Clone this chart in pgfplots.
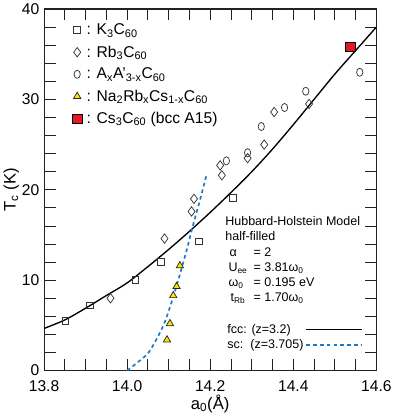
\documentclass[border=0pt]{standalone}
\usepackage{fontspec}
\setmainfont{Liberation Sans}
\usepackage{pgfplots}
\pgfplotsset{compat=1.18}

\definecolor{scblue}{RGB}{30,120,200}
\definecolor{triyel}{RGB}{255,228,0}
\definecolor{csred}{RGB}{230,25,35}
\definecolor{axcol}{RGB}{40,32,32}

\pgfplotsset{
  base/.style={
    scale only axis, width=318bp, height=346bp,
    xmin=13.8, xmax=14.6, ymin=0, ymax=40,
  }
}

\begin{document}
\begin{tikzpicture}
% frame, model curves and their legend
\begin{axis}[
  base,
  axis line style={axcol, line width=1pt},
  xtick={13.8,14,14.2,14.4,14.6},
  ytick={0,10,20,30,40},
  minor x tick num=3, minor y tick num=4,
  tick align=inside,
  tick style={axcol, line width=0.8pt},
  major tick length=11bp, minor tick length=11bp,
  xticklabel style={yshift=-6bp, /pgf/number format/.cd, fixed, fixed zerofill, precision=1},
  yticklabel style={xshift=-1bp},
  /pgf/number format/assume math mode=true,
  tick label style={font=\fontsize{15}{15}\selectfont},
  label style={font=\fontsize{16}{16}\selectfont},
  xlabel={a\textsubscript{0}(Å)},
  ylabel={T\textsubscript{c} (K)},
  xlabel style={yshift=4bp},
  ylabel style={yshift=-4bp},
  legend plot pos=right,
  legend cell align=left,
  legend style={draw=none, fill=none, at={(0.545,0.135)}, anchor=north west,
    font=\fontsize{12}{12}\selectfont, row sep=1bp, inner sep=0pt},
  legend image code/.code={\draw[#1] (0bp,0bp) -- (53bp,0bp);},
]
\addplot[black, line width=1.3pt, smooth] coordinates {
  (13.80,4.66) (13.85,5.6) (13.90,6.9) (13.95,8.3) (14.00,9.7)
  (14.05,11.5) (14.10,13.4) (14.15,15.4) (14.20,17.5) (14.25,19.7)
  (14.30,22.0) (14.35,24.5) (14.40,27.2) (14.45,30.0) (14.50,32.8)
  (14.55,35.4) (14.60,38.0)
};
\addlegendentry{fcc: (z=3.2)\hspace{8bp}}
\addplot[scblue, line width=1.6pt, dash pattern=on 3.5bp off 3bp, smooth] coordinates {
  (14.000,0.0) (14.025,0.9) (14.050,1.9) (14.070,3.4) (14.090,5.3)
  (14.110,8.0) (14.128,10.8) (14.145,13.6) (14.157,15.8) (14.175,18.8)
  (14.192,21.8)
};
\addlegendentry{sc:\ \ (z=3.705)}

\node[anchor=north west, inner sep=0pt, font=\fontsize{12}{14.5}\selectfont, align=left]
  at (rel axis cs:0.545,0.43) {%
  \begin{tabular}{@{}l@{\hspace{6bp}}l@{}}
  \multicolumn{2}{@{}l@{}}{Hubbard-Holstein Model}\\
  \multicolumn{2}{@{}l@{}}{half-filled}\\
  \hspace{4bp}α & = 2\\
  \hspace{3bp}U\textsubscript{ee} & = 3.81ω\textsubscript{0}\\
  \hspace{3bp}ω\textsubscript{0} & = 0.195 eV\\
  \hspace{5bp}t\textsubscript{Rb} & = 1.70ω\textsubscript{0}\\
  \end{tabular}};
\end{axis}

% experimental data and their legend
\begin{axis}[
  base,
  hide axis,
  legend cell align=left,
  legend style={draw=none, fill=none, at={(0.085,0.965)}, anchor=north west,
    font=\fontsize{15}{15}\selectfont, row sep=5bp, inner sep=0pt},
]
\addplot[only marks, mark=square, mark size=3.2pt, mark options={black!80, line width=0.7pt, fill=white}]
  coordinates {(13.851,5.5) (13.910,7.2) (14.020,10.0) (14.081,12.0) (14.172,14.3) (14.254,19.1)};
\addlegendentry{\,: K\textsubscript{3}C\textsubscript{60}}
\addplot[only marks, mark=diamond, mark size=4.5pt, mark options={black!80, line width=0.7pt, fill=white}]
  coordinates {(13.960,8.0) (14.090,14.6) (14.155,17.6) (14.161,19.0) (14.228,21.6)
  (14.224,22.7) (14.290,23.5) (14.330,25.0) (14.354,28.6) (14.438,29.5)};
\addlegendentry{\,: Rb\textsubscript{3}C\textsubscript{60}}
\addplot[only marks, mark=o, mark size=3pt, mark options={black!80, line width=0.7pt, yscale=1.3}]
  coordinates {(14.239,23.2) (14.290,24.1) (14.323,27.0) (14.379,29.1) (14.430,30.9) (14.560,33.0)};
\addlegendentry{\,: A\textsubscript{x}A'\textsubscript{3-x}C\textsubscript{60}}
\addplot[only marks, mark=triangle*, mark size=4pt, mark options={draw=black!85, fill=triyel, line width=0.7pt}]
  coordinates {(14.096,3.4) (14.103,5.2) (14.111,8.3) (14.119,9.3) (14.127,11.6)};
\addlegendentry{\,: Na\textsubscript{2}Rb\textsubscript{x}Cs\textsubscript{1-x}C\textsubscript{60}}
\addplot[only marks, mark=square*, mark size=4.5pt, mark options={draw=none, fill=csred}]
  coordinates {(14.537,35.8)};
\addlegendentry{\,: Cs\textsubscript{3}C\textsubscript{60} (bcc A15)}
\end{axis}
\end{tikzpicture}
\end{document}
